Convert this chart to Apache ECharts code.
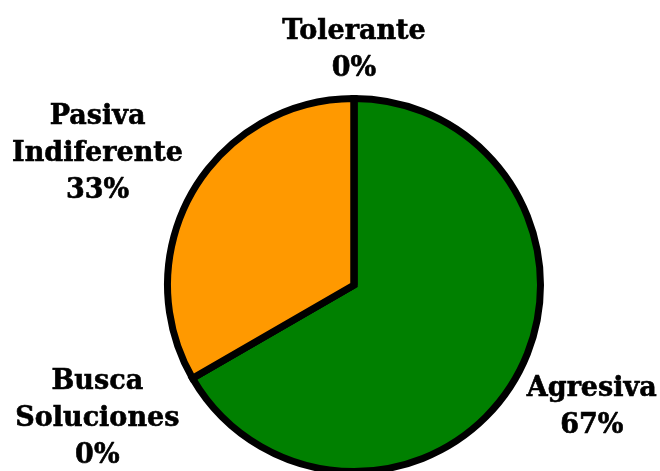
<!DOCTYPE html>
<html>
<head>
<meta charset="utf-8">
<script src="https://cdn.jsdelivr.net/npm/echarts@6/dist/echarts.min.js"></script>
<style>
html,body{margin:0;padding:0;background:#fff;}
#chart{width:660px;height:471px;}
</style>
</head>
<body>
<div id="chart"></div>
<script>
// Data
const categories = ['Agresiva', 'Busca\nSoluciones', 'Pasiva\nIndiferente', 'Tolerante'];
const values = [2, 0, 1, 0];
const percentLabels = ['67%', '0%', '33%', '0%'];
const colors = ['#008000', '#FF9900', '#FF9900', '#FF9900'];

// Label reach (styling): [radial length, horizontal length]
const labelReach = [[58, 26], [81, 25], [75, 30], [48, 0]];

const chart = echarts.init(document.getElementById('chart'), null, {renderer: 'canvas'});

const data = categories.map((c, i) => ({
  name: c,
  value: values[i],
  itemStyle: {color: colors[i]},
  labelLine: {length: labelReach[i][0], length2: labelReach[i][1]}
}));

chart.setOption({
  animation: false,
  backgroundColor: '#ffffff',
  series: [{
    type: 'pie',
    center: [354, 285],
    radius: 186.5,
    startAngle: 90,
    clockwise: true,
    avoidLabelOverlap: false,
    minShowLabelAngle: 0,
    data: data,
    itemStyle: {borderColor: '#000000', borderWidth: 7, borderJoin: 'miter'},
    emphasis: {disabled: true},
    label: {
      show: true,
      position: 'outside',
      alignTo: 'none',
      formatter: p => p.name + '\n' + percentLabels[p.dataIndex],
      fontFamily: 'DejaVu Serif',
      fontWeight: 'bold',
      fontSize: 27,
      lineHeight: 37,
      color: '#000000',
      textBorderColor: '#000000',
      textBorderWidth: 0.6,
      align: 'center'
    },
    labelLine: {show: true, lineStyle: {opacity: 0, width: 0}},
    labelLayout: function (params) {
      const pts = params.labelLinePoints;
      if (pts && pts.length) {
        const p = pts[pts.length - 1];
        return {x: p[0], y: p[1], align: 'center', verticalAlign: 'middle'};
      }
      return {};
    }
  }]
});
</script>
</body>
</html>
